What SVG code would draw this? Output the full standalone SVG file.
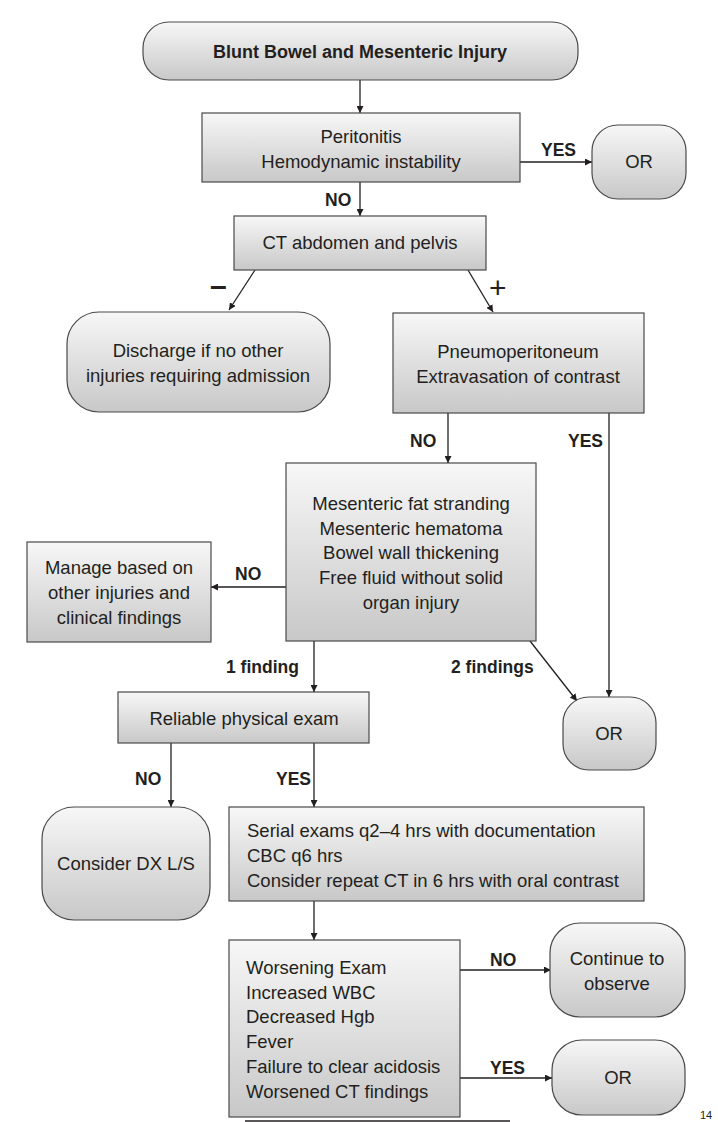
<svg xmlns="http://www.w3.org/2000/svg" width="718" height="1122" viewBox="0 0 718 1122">
<defs>
<linearGradient id="g" x1="0" y1="0" x2="0" y2="1">
<stop offset="0" stop-color="#f7f7f7"/>
<stop offset="1" stop-color="#c8c8c8"/>
</linearGradient>
<marker id="ah" viewBox="0 0 10 10" refX="10" refY="5" markerWidth="7" markerHeight="7" markerUnits="userSpaceOnUse" orient="auto">
<path d="M0,0 L10,5 L0,10 z" fill="#231f20"/>
</marker>
</defs>
<style>
.b{fill:url(#g);stroke:#4a4a4a;stroke-width:1.2}
.t{font-family:"Liberation Sans",Arial,sans-serif;font-size:18.5px;fill:#231f20}
.c{text-anchor:middle}
.l{font-family:"Liberation Sans",Arial,sans-serif;font-size:17.5px;font-weight:bold;fill:#231f20}
.e{stroke:#231f20;stroke-width:1.3;fill:none;marker-end:url(#ah)}
</style>
<rect width="718" height="1122" fill="#ffffff"/>

<g id="connectors">
<path class="e" d="M360,80 V113"/>
<path class="e" d="M520,162 H592"/>
<path class="e" d="M360,182 V216"/>
<path class="e" d="M255,270 L229,310"/>
<path class="e" d="M468,270 L493,312"/>
<path class="e" d="M448,413 V463"/>
<path class="e" d="M609,413 V697"/>
<path class="e" d="M286,587 H211"/>
<path class="e" d="M314,641 V692"/>
<path class="e" d="M530,641 L577,701"/>
<path class="e" d="M171,743 V807"/>
<path class="e" d="M314,743 V807"/>
<path class="e" d="M314,901 V940"/>
<path class="e" d="M460,970 H551"/>
<path class="e" d="M460,1078 H552"/>
<text class="l" x="541" y="156">YES</text>
<text class="l" x="325" y="206">NO</text>
<text class="l" x="210" y="296" style="font-size:30px;font-weight:bold">–</text>
<text class="l" x="489" y="298" style="font-size:30px;font-weight:normal">+</text>
<text class="l" x="410" y="447">NO</text>
<text class="l" x="568" y="447">YES</text>
<text class="l" x="235" y="580">NO</text>
<text class="l" x="226" y="673">1 finding</text>
<text class="l" x="451" y="673">2 findings</text>
<text class="l" x="135" y="785">NO</text>
<text class="l" x="276" y="785">YES</text>
<text class="l" x="490" y="966">NO</text>
<text class="l" x="490" y="1074">YES</text>
</g>

<g id="title">
<rect class="b" x="143" y="22" width="435" height="58" rx="26"/>
<text class="t c" x="360" y="58" style="font-weight:bold;font-size:18px">Blunt Bowel and Mesenteric Injury</text>
</g>
<g id="peritonitis">
<rect class="b" x="202" y="113" width="318" height="69"/>
<text class="t c" x="361" y="143">Peritonitis</text>
<text class="t c" x="361" y="168">Hemodynamic instability</text>
</g>
<g id="or1">
<rect class="b" x="592" y="125" width="94" height="74" rx="26"/>
<text class="t c" x="639" y="168">OR</text>
</g>
<g id="ct">
<rect class="b" x="234" y="216" width="252" height="54"/>
<text class="t c" x="360" y="249">CT abdomen and pelvis</text>
</g>
<g id="discharge">
<rect class="b" x="67" y="312" width="263" height="100" rx="32"/>
<text class="t c" x="198" y="357">Discharge if no other</text>
<text class="t c" x="198" y="382">injuries requiring admission</text>
</g>
<g id="pneumo">
<rect class="b" x="393" y="313" width="251" height="100"/>
<text class="t c" x="518" y="358">Pneumoperitoneum</text>
<text class="t c" x="518" y="383">Extravasation of contrast</text>
</g>
<g id="mesenteric">
<rect class="b" x="286" y="463" width="250" height="178"/>
<text class="t c" x="411" y="510">Mesenteric fat stranding</text>
<text class="t c" x="411" y="535">Mesenteric hematoma</text>
<text class="t c" x="411" y="559">Bowel wall thickening</text>
<text class="t c" x="411" y="584">Free fluid without solid</text>
<text class="t c" x="411" y="609">organ injury</text>
</g>
<g id="manage">
<rect class="b" x="27" y="542" width="184" height="100"/>
<text class="t c" x="119" y="574">Manage based on</text>
<text class="t c" x="119" y="599">other injuries and</text>
<text class="t c" x="119" y="624">clinical findings</text>
</g>
<g id="or2">
<rect class="b" x="563" y="697" width="93" height="73" rx="26"/>
<text class="t c" x="609" y="740">OR</text>
</g>
<g id="reliable">
<rect class="b" x="118" y="692" width="251" height="51"/>
<text class="t c" x="244" y="725">Reliable physical exam</text>
</g>
<g id="considerdx">
<rect class="b" x="42" y="807" width="168" height="113" rx="32"/>
<text class="t c" x="126" y="870">Consider DX L/S</text>
</g>
<g id="serial">
<rect class="b" x="229" y="807" width="415" height="94"/>
<text class="t" x="247" y="837">Serial exams q2–4 hrs with documentation</text>
<text class="t" x="247" y="862">CBC q6 hrs</text>
<text class="t" x="247" y="887">Consider repeat CT in 6 hrs with oral contrast</text>
</g>
<g id="worsening">
<rect class="b" x="229" y="940" width="231" height="177"/>
<text class="t" x="246" y="974">Worsening Exam</text>
<text class="t" x="246" y="999">Increased WBC</text>
<text class="t" x="246" y="1023">Decreased Hgb</text>
<text class="t" x="246" y="1048">Fever</text>
<text class="t" x="246" y="1073">Failure to clear acidosis</text>
<text class="t" x="246" y="1098">Worsened CT findings</text>
</g>
<g id="continue">
<rect class="b" x="550" y="923" width="135" height="94" rx="30"/>
<text class="t c" x="617" y="965">Continue to</text>
<text class="t c" x="617" y="990">observe</text>
</g>
<g id="or3">
<rect class="b" x="552" y="1040" width="133" height="75" rx="30"/>
<text class="t c" x="618" y="1084">OR</text>
</g>
<line x1="245" y1="1121" x2="510" y2="1121" stroke="#231f20" stroke-width="1.5"/>
<text class="t" x="700" y="1119" style="font-size:11px">14</text>
</svg>
